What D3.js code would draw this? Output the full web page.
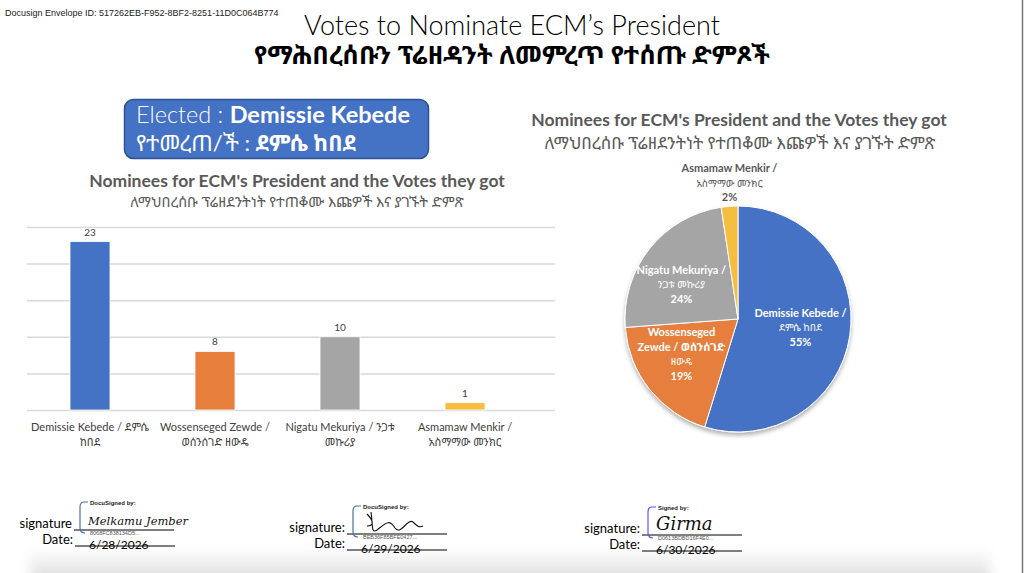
<!DOCTYPE html>
<html>
<head>
<meta charset="utf-8">
<script src="https://cdn.jsdelivr.net/npm/d3@7"></script>
<style>
  body { margin: 0; background: #fff; }
  svg { display: block; }
  text { font-family: Lato, "Noto Sans Ethiopic", "Abyssinica SIL", "Noto Sans", sans-serif; }
</style>
</head>
<body>
<div id="chart"></div>
<script>
// chart data
var nominees = ["Demissie Kebede", "Wossenseged Zewde", "Nigatu Mekuriya", "Asmamaw Menkir"];
var votes = [23, 8, 10, 1];
var barLabels = [
  ["Demissie Kebede / ደምሴ", "ከበደ"],
  ["Wossenseged Zewde /", "ወሰንሰገድ ዘውዴ"],
  ["Nigatu Mekuriya / ንጋቱ", "መኩሪያ"],
  ["Asmamaw Menkir /", "አስማማው መንክር"]
];
var pieLabels = [
  ["Demissie Kebede /", "ደምሴ ከበደ"],
  ["Wossenseged", "Zewde / ወሰንሰገድ", "ዘውዴ"],
  ["Nigatu Mekuriya /", "ንጋቱ መኩሪያ"],
  ["Asmamaw Menkir /", "አስማማው መንክር"]
];
var gridTicks = [0, 5, 10, 15, 20, 25];
var colors = ["#4472C4", "#E67E3C", "#A5A5A5", "#F5BE41"];

var svgWidth = 1024;
var svgHeight = 573;

var svg = d3.select("#chart")
  .append("svg")
  .attr("width", svgWidth)
  .attr("height", svgHeight);

var defs = svg.append("defs");
var shade = defs.append("linearGradient").attr("id", "shade")
  .attr("x1", 0).attr("y1", 0).attr("x2", 0).attr("y2", 1);
shade.append("stop").attr("offset", "0%").attr("stop-color", "#fff");
shade.append("stop").attr("offset", "100%").attr("stop-color", "#d4d4d4");
defs.append("filter").attr("id", "blur")
  .append("feGaussianBlur").attr("stdDeviation", 6);
defs.append("filter").attr("id", "pieShadow")
  .attr("x", "-20%").attr("y", "-20%").attr("width", "140%").attr("height", "140%")
  .append("feDropShadow").attr("dx", 0).attr("dy", 3).attr("stdDeviation", 2)
  .attr("flood-color", "#000").attr("flood-opacity", 0.3);

// page shadow + right edge
svg.append("rect").attr("x", 30).attr("y", 548).attr("width", 960).attr("height", 40)
  .attr("fill", "url(#shade)").attr("filter", "url(#blur)");
svg.append("line").attr("x1", 1022.5).attr("x2", 1022.5).attr("y1", 0).attr("y2", svgHeight)
  .attr("stroke", "#777").attr("stroke-width", 1.5);

// envelope id
svg.append("text").attr("x", 5).attr("y", 16)
  .style("font-family", "Liberation Sans, Arial, sans-serif")
  .style("font-size", "9px").attr("fill", "#222")
  .text("Docusign Envelope ID: 517262EB-F952-8BF2-8251-11D0C064B774");

// main titles
svg.append("text").attr("x", 512).attr("y", 35).attr("text-anchor", "middle")
  .style("font-size", "27px").style("font-weight", 300).attr("fill", "#000")
  .text("Votes to Nominate ECM’s President");
svg.append("text").attr("x", 512).attr("y", 64).attr("text-anchor", "middle")
  .style("font-size", "25.5px").style("font-weight", "bold").attr("fill", "#000")
  .text("የማሕበረሰቡን ፕሬዘዳንት ለመምረጥ የተሰጡ ድምጾች");

// elected box
svg.append("rect").attr("x", 124.5).attr("y", 99.5).attr("width", 304).attr("height", 59)
  .attr("rx", 9).attr("fill", "#4472C4").attr("stroke", "#2F528F").attr("stroke-width", 1.5);
var el1 = svg.append("text").attr("x", 136).attr("y", 123)
  .style("font-size", "23.5px").attr("fill", "#fff");
el1.append("tspan").style("font-weight", 300).text("Elected : ");
el1.append("tspan").style("font-weight", "bold").text("Demissie Kebede");
var el2 = svg.append("text").attr("x", 136).attr("y", 151)
  .style("font-size", "22px").attr("fill", "#fff");
el2.append("tspan").text("የተመረጠ/ች : ");
el2.append("tspan").style("font-weight", "bold").text("ደምሴ ከበደ");

// ---------- bar chart ----------
var gridLeft = 27;
var gridRight = 555;

var xBand = d3.scaleBand()
  .domain(nominees)
  .range([27.5, 527.5])
  .paddingInner(0.68)
  .paddingOuter(0.34);

var yLinear = d3.scaleLinear()
  .domain([0, 25])
  .range([410, 227]);

svg.append("text").attr("x", 297).attr("y", 187).attr("text-anchor", "middle")
  .style("font-size", "17.5px").style("font-weight", "bold").attr("fill", "#595959")
  .text("Nominees for ECM's President and the Votes they got");
svg.append("text").attr("x", 297).attr("y", 207).attr("text-anchor", "middle")
  .style("font-size", "14.5px").attr("fill", "#595959")
  .text("ለማህበረሰቡ ፕሬዘደንትነት የተጠቆሙ እጩዎች እና ያገኙት ድምጽ");

var grid = svg.append("g")
  .attr("transform", `translate(${gridLeft}, 0)`)
  .call(d3.axisLeft(yLinear).tickValues(gridTicks).tickSize(-(gridRight - gridLeft)).tickFormat(""));
grid.select(".domain").remove();
grid.selectAll(".tick line").attr("stroke", "#d9d9d9").attr("stroke-width", 1.5);

svg.append("g").selectAll("rect")
  .data(votes)
  .enter()
  .append("rect")
  .attr("x", (d, i) => xBand(nominees[i]))
  .attr("y", d => yLinear(d))
  .attr("width", xBand.bandwidth())
  .attr("height", d => yLinear(0) - yLinear(d))
  .attr("fill", (d, i) => colors[i])
  .attr("stroke", "#fff")
  .attr("stroke-width", 0.8);

svg.append("g").selectAll("text")
  .data(votes)
  .enter()
  .append("text")
  .attr("x", (d, i) => xBand(nominees[i]) + xBand.bandwidth() / 2)
  .attr("y", d => yLinear(d) - 6)
  .attr("text-anchor", "middle")
  .style("font-size", "10px")
  .attr("fill", "#404040")
  .text(d => d);

var catText = svg.append("g").selectAll("text")
  .data(barLabels)
  .enter()
  .append("text")
  .attr("text-anchor", "middle")
  .style("font-size", "11px")
  .attr("fill", "#404040");
catText.each(function(lines, i) {
  var t = d3.select(this);
  lines.forEach(function(line, j) {
    t.append("tspan")
      .attr("x", xBand(nominees[i]) + xBand.bandwidth() / 2)
      .attr("y", 431 + j * 15)
      .text(line);
  });
});

// ---------- pie chart ----------
var cx = 738, cy = 319, radius = 113;
var total = d3.sum(votes);

svg.append("text").attr("x", 739).attr("y", 126).attr("text-anchor", "middle")
  .style("font-size", "17.5px").style("font-weight", "bold").attr("fill", "#595959")
  .text("Nominees for ECM's President and the Votes they got");
svg.append("text").attr("x", 740).attr("y", 149).attr("text-anchor", "middle")
  .style("font-size", "17px").attr("fill", "#595959")
  .text("ለማህበረሰቡ ፕሬዘደንትነት የተጠቆሙ እጩዎች እና ያገኙት ድምጽ");

var pie = d3.pie().sort(null).value(d => d);
var arcs = pie(votes);
var arc = d3.arc().innerRadius(0).outerRadius(radius);
var labelArc = d3.arc().innerRadius(radius * 0.62).outerRadius(radius * 0.62);

var pieG = svg.append("g").attr("transform", `translate(${cx}, ${cy})`);
pieG.append("g").attr("filter", "url(#pieShadow)")
  .selectAll("path")
  .data(arcs)
  .enter()
  .append("path")
  .attr("d", arc)
  .attr("fill", (d, i) => colors[i])
  .attr("stroke", "#fff")
  .attr("stroke-width", 1);

var lineH = 14.5;
pieG.selectAll("text.lbl")
  .data(arcs)
  .enter()
  .append("text")
  .attr("class", "lbl")
  .attr("text-anchor", "middle")
  .style("font-size", "11px")
  .attr("fill", (d, i) => i === 3 ? "#595959" : "#fff")
  .each(function(d, i) {
    var t = d3.select(this);
    var lines = pieLabels[i].concat([Math.round(d.value / total * 100) + "%"]);
    var c = labelArc.centroid(d);
    var lx, y0;
    if (i === 3) {
      // small slice: label sits above the pie
      lx = c[0] * 0.1 - 8;
      y0 = -radius - 5 - (lines.length - 1) * lineH;
    } else {
      lx = c[0] * 0.96 - 4;
      y0 = c[1] * 0.8 - (lines.length - 1) * lineH / 2 + 4;
    }
    lines.forEach(function(line, j) {
      var latin = /[A-Za-z%]/.test(line);
      t.append("tspan")
        .attr("x", lx)
        .attr("y", y0 + j * lineH)
        .style("font-weight", latin ? "bold" : "normal")
        .style("font-size", latin ? "11px" : "10px")
        .text(line);
    });
  });

// ---------- signatures ----------
var sigs = [
  { sx: 72, dx: 73, date: "6/28/2026", label: "DocuSigned by:", name: "Melkamu Jember", tag: "8068FC838134D5...", color: "#4a6fa5" },
  { sx: 345, dx: 345, date: "6/29/2026", label: "DocuSigned by:", name: "", tag: "BEB36F85BFE0427...", color: "#4a6fa5" },
  { sx: 640, dx: 640, date: "6/30/2026", label: "Signed by:", name: "Girma", tag: "D0613BDBD16F4E0...", color: "#6a4cff" }
];
var sigY = [528, 532, 533];
var sigG = svg.append("g");
sigs.forEach(function(s, i) {
  var y = sigY[i];
  var g = sigG.append("g");
  g.append("text").attr("x", s.sx).attr("y", y).attr("text-anchor", "end")
    .style("font-size", "13px").attr("fill", "#000").text(i === 0 ? "signature" : "signature:");
  g.append("text").attr("x", s.dx).attr("y", y + 16).attr("text-anchor", "end")
    .style("font-size", "13px").attr("fill", "#000").text("Date:");
  g.append("line").attr("x1", s.sx + 2).attr("x2", s.sx + 102).attr("y1", y + 2).attr("y2", y + 2)
    .attr("stroke", "#000").attr("stroke-width", 1);
  g.append("line").attr("x1", s.dx + 2).attr("x2", s.dx + 102).attr("y1", y + 18).attr("y2", y + 18)
    .attr("stroke", "#000").attr("stroke-width", 1);
  // bracket
  var bx = s.sx + 8, by = y - 26;
  g.append("path")
    .attr("d", `M${bx + 8},${by} H${bx + 4} Q${bx},${by} ${bx},${by + 5} V${by + 26} Q${bx},${by + 31} ${bx + 5},${by + 31}`)
    .attr("fill", "none").attr("stroke", s.color).attr("stroke-width", 1.2);
  g.append("text").attr("x", bx + 10).attr("y", by + 3)
    .style("font-family", "Liberation Sans, Arial, sans-serif")
    .style("font-size", "6px").style("font-weight", "bold").attr("fill", "#222").text(s.label);
  g.append("text").attr("x", bx + 10).attr("y", y + 7)
    .style("font-family", "Liberation Sans, Arial, sans-serif")
    .style("font-size", "5.5px").attr("fill", "#555").text(s.tag);
  g.append("text").attr("x", s.dx + 16).attr("y", y + 21)
    .style("font-size", "12px").attr("fill", "#000").text(s.date);
  if (s.name) {
    g.append("text").attr("x", bx + 8).attr("y", y - 3)
      .style("font-family", "DejaVu Serif, serif").style("font-style", "italic")
      .style("font-size", i === 0 ? "11.5px" : "18px").attr("fill", "#111").text(s.name);
  } else {
    g.append("path")
      .attr("d", `M${bx + 14},${by + 8} C${bx + 20},${by + 14} ${bx + 22},${by + 20} ${bx + 14},${by + 20} M${bx + 18},${by + 6} C${bx + 20},${by + 20} ${bx + 18},${by + 28} ${bx + 24},${by + 24} C${bx + 32},${by + 18} ${bx + 36},${by + 12} ${bx + 42},${by + 22} C${bx + 48},${by + 30} ${bx + 54},${by + 12} ${bx + 60},${by + 16} C${bx + 64},${by + 20} ${bx + 66},${by + 22} ${bx + 70},${by + 20}`)
      .attr("fill", "none").attr("stroke", "#111").attr("stroke-width", 1.1);
  }
});
</script>
</body>
</html>
